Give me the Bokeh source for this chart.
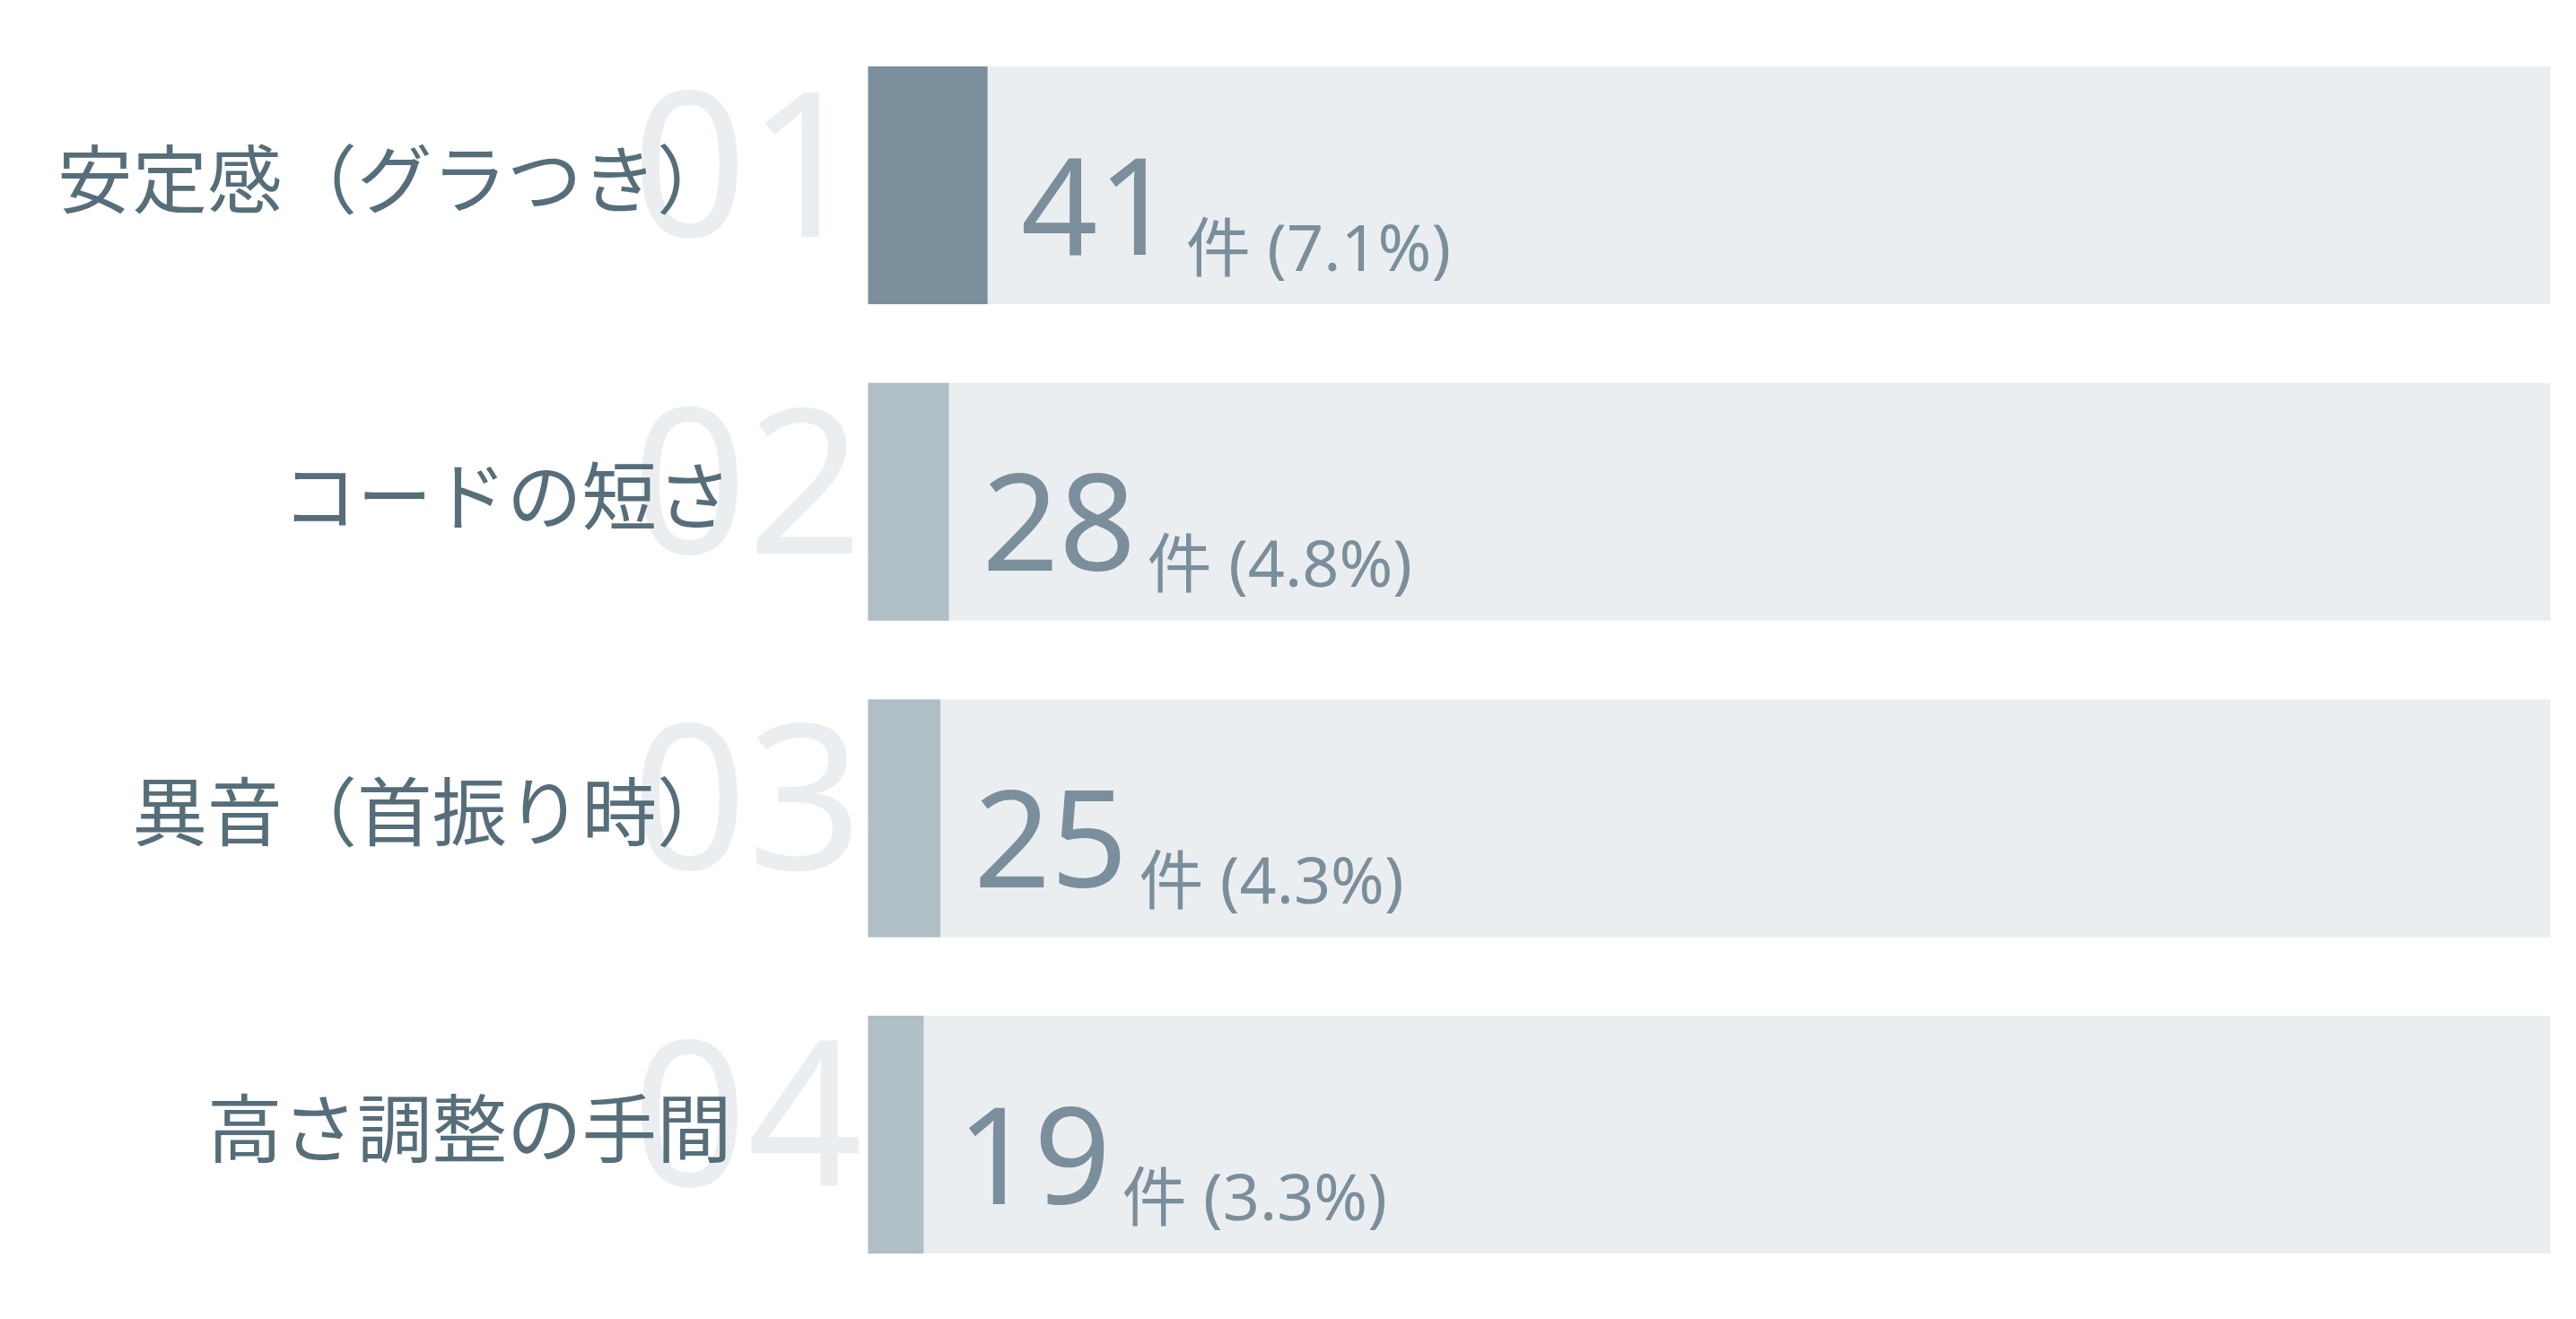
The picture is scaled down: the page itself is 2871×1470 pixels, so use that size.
from bokeh.plotting import figure
from bokeh.models import Range1d, ColumnDataSource
from bokeh.core.properties import value
from bokeh.embed import file_html
from bokeh.resources import INLINE

# ---- data ----
labels = ["安定感（グラつき）", "コードの短さ", "異音（首振り時）", "高さ調整の手間"]
ranks = ["01", "02", "03", "04"]
counts = [41, 28, 25, 19]
pcts = [7.1, 4.8, 4.3, 3.3]

# ---- layout constants (pixels) ----
W, H = 2855, 1454
TRACK_LEFT_PX = 967
TRACK_W_PX = 1875
PX_PER_PCT = TRACK_W_PX / 100.0
ROW0_PX = 206.0
ROW_STEP_PX = 352.7
BAR_H_PX = 265.0
BASE_FIX = 0.36  # em correction for alphabetic baseline placement

def dx(px):
    return px / PX_PER_PCT

def dy(px):
    return px / ROW_STEP_PX

rows = list(range(len(labels)))
bar_colors = ["#7A8F9B"] + ["#B0BEC5"] * (len(labels) - 1)

RANK_FS, NUM_FS, SUF_FS, LAB_FS = 225, 150, 72, 83.5

src = ColumnDataSource(dict(
    y=rows,
    pct=pcts,
    color=bar_colors,
    label=labels,
    rank=ranks,
    num=[str(c) for c in counts],
    suffix=[f"件 ({p:.1f}%)" for p in pcts],
    label_x=[-dx(152)] * len(rows),
    label_y=[r - dy(12) for r in rows],
    rank_x=[-dx(6)] * len(rows),
    rank_y=[r + dy(58 - BASE_FIX * RANK_FS) for r in rows],
    num_x=[p + dx(37) for p in pcts],
    num_y=[r + dy(77 - BASE_FIX * NUM_FS) for r in rows],
    suf_x=[p + dx(37 + 172 + 12) for p in pcts],
    suf_y=[r + dy(93 - BASE_FIX * SUF_FS) for r in rows],
    track_right=[100.0] * len(rows),
    zero=[0.0] * len(rows),
))

p = figure(width=W, height=H, output_backend="svg", toolbar_location=None,
           x_range=Range1d(-TRACK_LEFT_PX / PX_PER_PCT, (W - TRACK_LEFT_PX) / PX_PER_PCT),
           y_range=Range1d((H - ROW0_PX) / ROW_STEP_PX, -ROW0_PX / ROW_STEP_PX),
           min_border=0, background_fill_color="white", border_fill_color="white")
p.outline_line_color = None
p.axis.visible = False
p.grid.visible = False

bar_h = BAR_H_PX / ROW_STEP_PX

# big faint rank numbers
p.text(x="rank_x", y="rank_y", text="rank", source=src,
       text_font=value("Noto Sans"), text_font_size=f"{RANK_FS}px",
       text_color="#EBEEF1", text_align="right", text_baseline="alphabetic")

# category labels
p.text(x="label_x", y="label_y", text="label", source=src,
       text_font=value("Noto Sans CJK JP"), text_font_size=f"{LAB_FS}px",
       text_color="#566E7A", text_align="right", text_baseline="middle")

# track and bars
p.hbar(y="y", left="zero", right="track_right", height=bar_h, source=src,
       fill_color="#EBEEF1", line_color=None)
p.hbar(y="y", left="zero", right="pct", height=bar_h, source=src,
       fill_color="color", line_color=None)

# value labels
p.text(x="num_x", y="num_y", text="num", source=src,
       text_font=value("Noto Sans"), text_font_size=f"{NUM_FS}px",
       text_color="#7A8F9B", text_align="left", text_baseline="alphabetic")
p.text(x="suf_x", y="suf_y", text="suffix", source=src,
       text_font=value("Noto Sans, Noto Sans CJK JP"), text_font_size=f"{SUF_FS}px",
       text_color="#7A8F9B", text_align="left", text_baseline="alphabetic")

open("out.html", "w").write(file_html(p, INLINE))
